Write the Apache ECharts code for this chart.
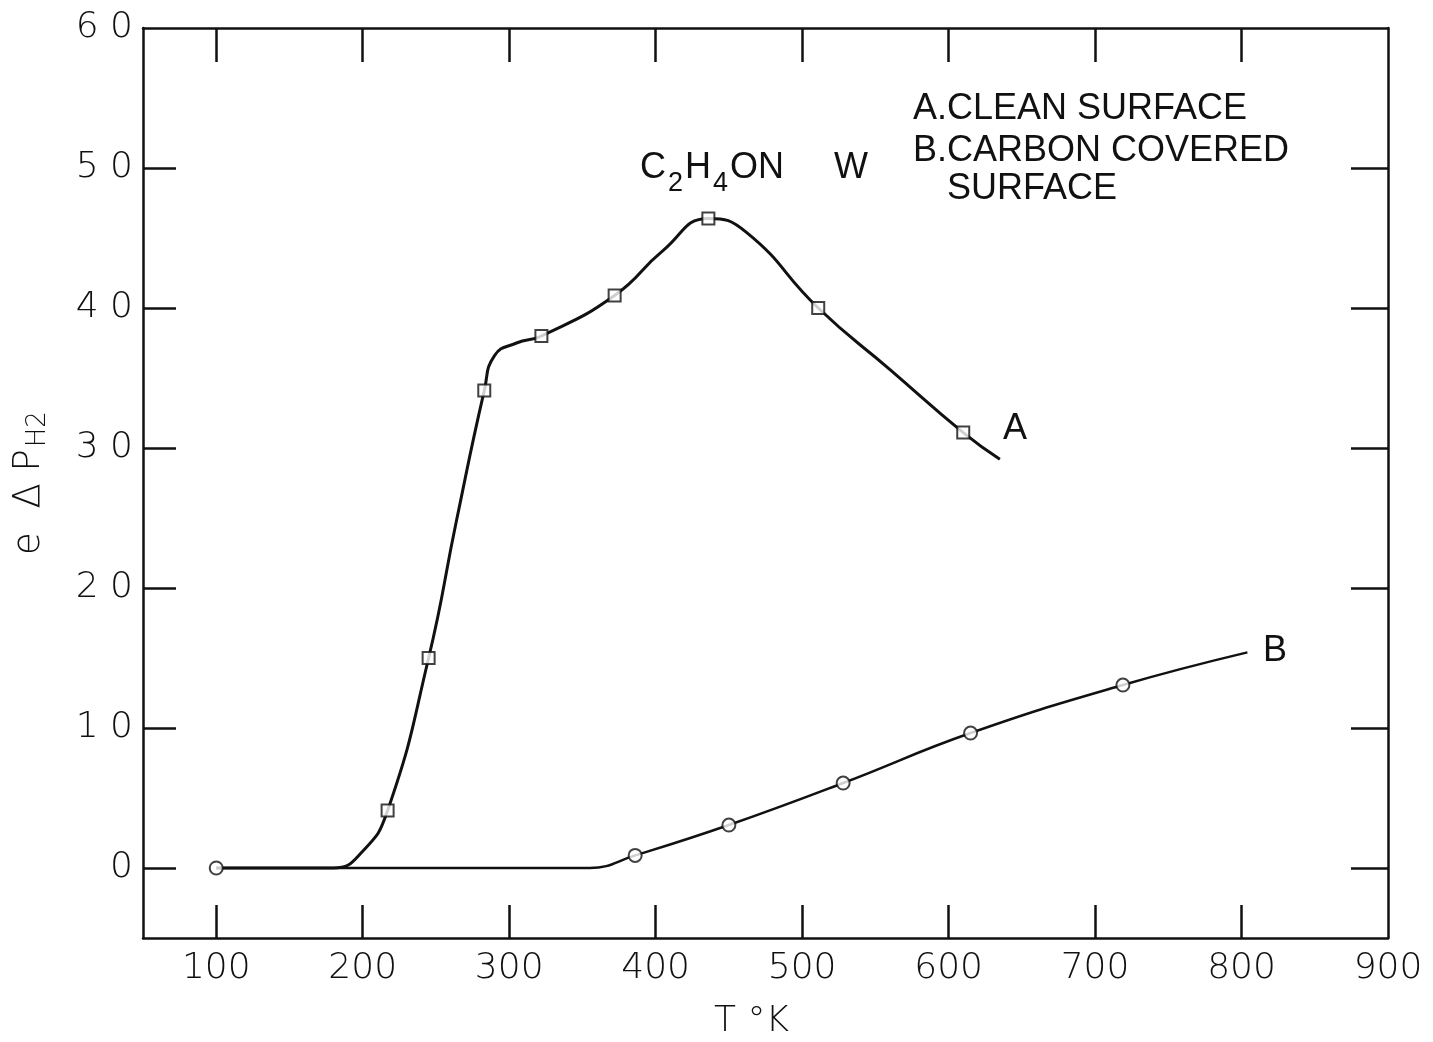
<!DOCTYPE html>
<html><head><meta charset="utf-8">
<script src="https://cdn.jsdelivr.net/npm/echarts@6/dist/echarts.min.js"></script>
<style>html,body{margin:0;padding:0;background:#fff}#c{width:1433px;height:1042px}</style>
</head><body><div id="c"></div>
<script>
// Tick positions and labels
const xTicks = [100, 200, 300, 400, 500, 600, 700, 800];
const xLabels = [100, 200, 300, 400, 500, 600, 700, 800, 900];
const yTicks = [0, 10, 20, 30, 40, 50];
const yLabels = [0, 10, 20, 30, 40, 50, 60];

// Curve A (clean surface)
const curveA = [[100,0],[150,0],[180,0],[200,1.2],[217,4.1],[245,15],[264,24.8],[283,34.1],[290,36.6],[305,37.5],[322,38],[372,40.9],[405,44.1],[436,46.4],[462,45.4],[511,40],[560,35.6],[610,31.1],[635,29.2]];
// Curve B (carbon covered surface)
const curveB = [[100,0],[250,0],[355,0],[386,0.9],[450,3.07],[528,6.07],[615,9.64],[719,13.07],[804,15.4]];

// Measured points
const pointsA = [[217,4.1],[245,15],[283,34.1],[322,38],[372,40.9],[436,46.4],[511,40],[610,31.1]];
const pointsB = [[100,0],[386,0.9],[450,3.07],[528,6.07],[615,9.64],[719,13.07]];

const INK = '#111';
const FONT = 'DejaVu Sans';
const chart = echarts.init(document.getElementById('c'), null, {renderer: 'canvas'});

const axisLineStyle = {onZero: false, lineStyle: {color: INK, width: 2.5}};
const tickStyle = {color: INK, width: 2.5};

const option = {
  backgroundColor: '#fff',
  animation: false,
  grid: {left: 143, right: 45, top: 28, bottom: 104, outerBoundsMode: 'none', containLabel: false},
  xAxis: [{
    type: 'value', min: 50, max: 900, position: 'bottom',
    axisLine: axisLineStyle,
    axisTick: {inside: true, length: 33, customValues: xTicks, lineStyle: tickStyle},
    axisLabel: {customValues: xLabels, fontSize: 36, fontFamily: FONT, fontWeight: 200, color: INK, margin: 13},
    splitLine: {show: false},
    name: 'T °K', nameLocation: 'middle', nameGap: 66,
    nameTextStyle: {fontSize: 36, fontFamily: FONT, fontWeight: 200, color: INK, padding: [0, 28, 0, 0]}
  }, {
    type: 'value', min: 50, max: 900, position: 'top',
    axisLine: axisLineStyle,
    axisTick: {inside: true, length: 34, customValues: xTicks, lineStyle: tickStyle},
    axisLabel: {show: false},
    splitLine: {show: false}
  }],
  yAxis: [{
    type: 'value', min: -5, max: 60, position: 'left',
    axisLine: axisLineStyle,
    axisTick: {inside: true, length: 33, customValues: yTicks, lineStyle: tickStyle},
    axisLabel: {customValues: yLabels, fontSize: 36, fontFamily: FONT, fontWeight: 200, color: INK, margin: 10,
      formatter: v => String(v).split('').join(' ')},
    splitLine: {show: false},
    name: '{m|e  Δ P}{s|H2}', nameLocation: 'middle', nameGap: 92,
    nameTextStyle: {
      color: INK,
      rich: {
        m: {fontSize: 37, fontFamily: FONT, fontWeight: 200, color: INK, lineHeight: 44},
        s: {fontSize: 26, fontFamily: FONT, fontWeight: 200, color: INK, lineHeight: 44, padding: [18, 0, 0, 2]}
      }
    }
  }, {
    type: 'value', min: -5, max: 60, position: 'right',
    axisLine: axisLineStyle,
    axisTick: {inside: true, length: 37, customValues: yTicks, lineStyle: tickStyle},
    axisLabel: {show: false},
    splitLine: {show: false}
  }],
  series: [
    {type: 'line', data: curveA, smooth: 0.5, symbol: 'none', lineStyle: {color: INK, width: 3}, z: 2},
    {type: 'line', data: curveB, smooth: 0.45, symbol: 'none', lineStyle: {color: INK, width: 2.5}, z: 2},
    {type: 'scatter', data: pointsA, symbol: 'rect', symbolSize: 12, itemStyle: {color: '#fff', borderColor: INK, borderWidth: 2}, z: 5},
    {type: 'scatter', data: pointsB, symbol: 'circle', symbolSize: 13, itemStyle: {color: '#fff', borderColor: INK, borderWidth: 2}, z: 5}
  ],
  graphic: [
    {type: 'text', left: 640, top: 140, style: {
      text: '{m|C}{s|2}{m|H}{s|4}{m|ON     W}',
      rich: {
        m: {fontSize: 36, fontFamily: 'Liberation Sans', fill: INK, lineHeight: 40},
        s: {fontSize: 27, fontFamily: 'Liberation Sans', fill: INK, lineHeight: 40, padding: [30, 2, 0, 2]}
      }}},
    {type: 'text', left: 913, top: 91, style: {text: 'A.CLEAN SURFACE', fontSize: 36, fontFamily: 'Liberation Sans', fill: INK}},
    {type: 'text', left: 913, top: 133, style: {text: 'B.CARBON COVERED', fontSize: 36, fontFamily: 'Liberation Sans', fill: INK}},
    {type: 'text', left: 947, top: 171, style: {text: 'SURFACE', fontSize: 36, fontFamily: 'Liberation Sans', fill: INK}},
    {type: 'text', left: 1003, top: 411, style: {text: 'A', fontSize: 36, fontFamily: 'Liberation Sans', fill: INK}},
    {type: 'text', left: 1263, top: 633, style: {text: 'B', fontSize: 36, fontFamily: 'Liberation Sans', fill: INK}}
  ]
};
chart.setOption(option);
</script>
</body></html>
